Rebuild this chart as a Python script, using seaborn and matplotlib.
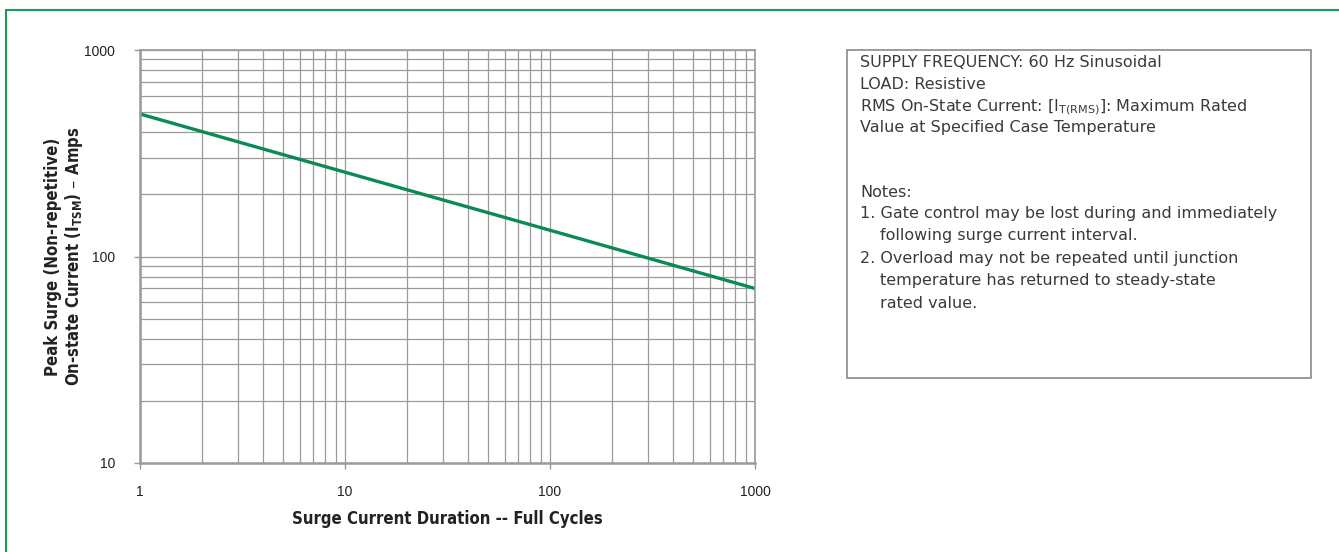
"""Peak surge on-state current vs surge duration (log-log) with notes box."""
import matplotlib
matplotlib.use('Agg')
import matplotlib.pyplot as plt
import matplotlib.ticker as mticker
from matplotlib.lines import Line2D
from matplotlib.patches import Rectangle
from matplotlib import font_manager
import seaborn as sns
import pandas as pd

# %%
# values
cycles = [1, 10, 100, 1000]
peak_amps = [490, 256, 134, 70]

x_ticks = [1, 10, 100, 1000]
y_ticks = [10, 100, 1000]

x_label = 'Surge Current Duration -- Full Cycles'
y_label = 'Peak Surge (Non-repetitive)\nOn-state Current (I$_{\\mathregular{TSM}}$) – Amps'

note_lines = [
    'SUPPLY FREQUENCY: 60 Hz Sinusoidal',
    'LOAD: Resistive',
    'RMS On-State Current: [I$_{\\mathregular{T(RMS)}}$]: Maximum Rated',
    'Value at Specified Case Temperature',
    'Notes:',
    '1. Gate control may be lost during and immediately',
    'following surge current interval.',
    '2. Overload may not be repeated until junction',
    'temperature has returned to steady-state',
    'rated value.',
]
note_baselines = [67, 89, 111, 132, 197, 218, 240, 263, 285, 308]
note_indent = [0, 0, 0, 0, 0, 0, 20, 0, 20, 20]

df = pd.DataFrame({'cycles': cycles, 'amps': peak_amps})

# %%
sns.set_style('white')
plt.rcParams['font.family'] = ['Liberation Sans', 'DejaVu Sans']
plt.rcParams['mathtext.default'] = 'regular'

# a narrow bold face for the axis titles, if one is around
cond = [f for f in font_manager.fontManager.ttflist
        if 'Condensed' in f.fname and 'Bold' in f.fname]
if cond:
    lab_fp = font_manager.FontProperties(fname=cond[0].fname, size=12)
else:
    lab_fp = font_manager.FontProperties(family='Liberation Sans', weight='bold', size=11.5)

W, H = 1339, 552
fig = plt.figure(figsize=(W / 100, H / 100), dpi=100)

def fx(px):
    return px / W

def fy(py):
    return 1 - py / H

ax = fig.add_axes([fx(140), fy(463), fx(755) - fx(140), fy(50) - fy(463)])

grid_col = '#9a9a9a'
sns.lineplot(data=df, x='cycles', y='amps', ax=ax, color='#0b8a56', linewidth=2.4)

ax.set_xscale('log')
ax.set_yscale('log')
ax.set_xlim(1, 1000)
ax.set_ylim(10, 1000)
ax.set_xticks(x_ticks)
ax.set_yticks(y_ticks)
ax.xaxis.set_major_formatter(mticker.FormatStrFormatter('%g'))
ax.yaxis.set_major_formatter(mticker.FormatStrFormatter('%g'))
ax.xaxis.set_minor_formatter(mticker.NullFormatter())
ax.yaxis.set_minor_formatter(mticker.NullFormatter())

ax.grid(True, which='both', color=grid_col, linewidth=0.9)
ax.tick_params(which='major', direction='out', length=4, width=1, color=grid_col,
               labelsize=10, labelcolor='#222222', left=True, bottom=True)
ax.tick_params(axis='y', which='major', pad=14)
ax.tick_params(axis='x', which='major', pad=12)
ax.tick_params(which='minor', length=0)
for s in ax.spines.values():
    s.set_color(grid_col)
    s.set_linewidth(1.2)
ax.spines['left'].set_linewidth(1.8)
ax.spines['bottom'].set_linewidth(1.8)

ax.set_xlabel(x_label, fontproperties=lab_fp, color='#222222', labelpad=8)
ax.set_ylabel(y_label, fontproperties=lab_fp, color='#222222', linespacing=1.1)
ax.yaxis.set_label_coords(-0.089, 0.5)

# notes box
fig.add_artist(Rectangle((fx(847), fy(378)), fx(1311) - fx(847), fy(50) - fy(378),
                         transform=fig.transFigure, fill=False, edgecolor='#8a8a8a',
                         linewidth=1.2))
for txt, base, ind in zip(note_lines, note_baselines, note_indent):
    fig.text(fx(860 + ind), fy(base), txt, fontsize=11.5, color='#3a3a3a',
             family='DejaVu Sans', va='baseline', ha='left')

# green page frame (left and top edges only visible)
frame_col = '#1a9a5c'
fig.add_artist(Line2D([fx(6.5), fx(6.5)], [0, fy(9.5)], transform=fig.transFigure,
                      color=frame_col, linewidth=1.5))
fig.add_artist(Line2D([fx(6.5), 1], [fy(9.5), fy(9.5)], transform=fig.transFigure,
                      color=frame_col, linewidth=1.5))

plt.savefig('out.png', dpi=100)
